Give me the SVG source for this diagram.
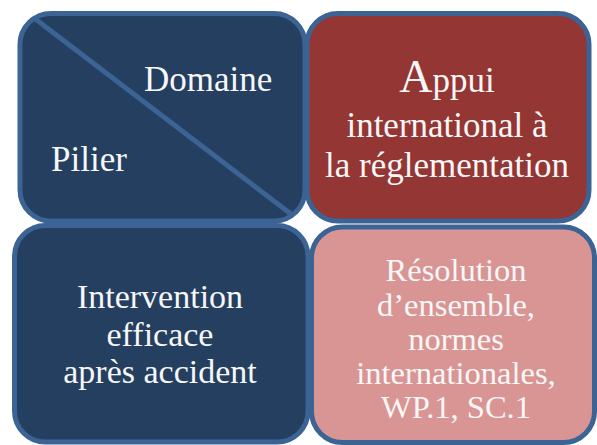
<svg xmlns="http://www.w3.org/2000/svg" width="597" height="445" viewBox="0 0 597 445">
<style>
.box{stroke:#3b6393;stroke-width:5}
.navy{fill:#253f60}
.red{fill:#943634}
.pink{fill:#d99594}
.t{fill:#f7f7f7}
.c{text-anchor:middle}
</style>
<rect width="597" height="445" fill="#ffffff"/>
<g id="node-pilier-domaine" font-family="'Liberation Serif', 'DejaVu Serif', serif" font-size="35">
<rect class="box navy" x="20" y="13.5" width="285" height="207.5" rx="31"/>
<line x1="34" y1="18" x2="291" y2="214" stroke="#3b6393" stroke-width="5"/>
<text class="t" x="144" y="91">Domaine</text>
<text class="t" x="51" y="171">Pilier</text>
</g>
<g id="node-appui" font-family="'Liberation Serif', 'DejaVu Serif', serif" font-size="35">
<rect class="box red" x="307" y="13.5" width="282" height="207.5" rx="31"/>
<text class="t c" x="447" y="92"><tspan font-size="46">A</tspan>ppui</text>
<text class="t c" x="447" y="137">international à</text>
<text class="t c" x="447" y="177">la réglementation</text>
</g>
<g id="node-intervention" font-family="'Liberation Serif', 'DejaVu Serif', serif" font-size="34">
<rect class="box navy" x="14.5" y="225.5" width="293.5" height="216.5" rx="31"/>
<text class="t c" x="160" y="308">Intervention</text>
<text class="t c" x="160" y="346">efficace</text>
<text class="t c" x="160" y="383">après accident</text>
</g>
<g id="node-resolution" font-family="'Liberation Serif', 'DejaVu Serif', serif" font-size="32.5">
<rect class="box pink" x="311.5" y="227" width="283" height="215.5" rx="31"/>
<text class="t c" x="456" y="281">Résolution</text>
<text class="t c" x="456" y="315.5">d’ensemble,</text>
<text class="t c" x="456" y="349.5">normes</text>
<text class="t c" x="456" y="384">internationales,</text>
<text class="t c" x="456" y="418">WP.1, SC.1</text>
</g>
</svg>
